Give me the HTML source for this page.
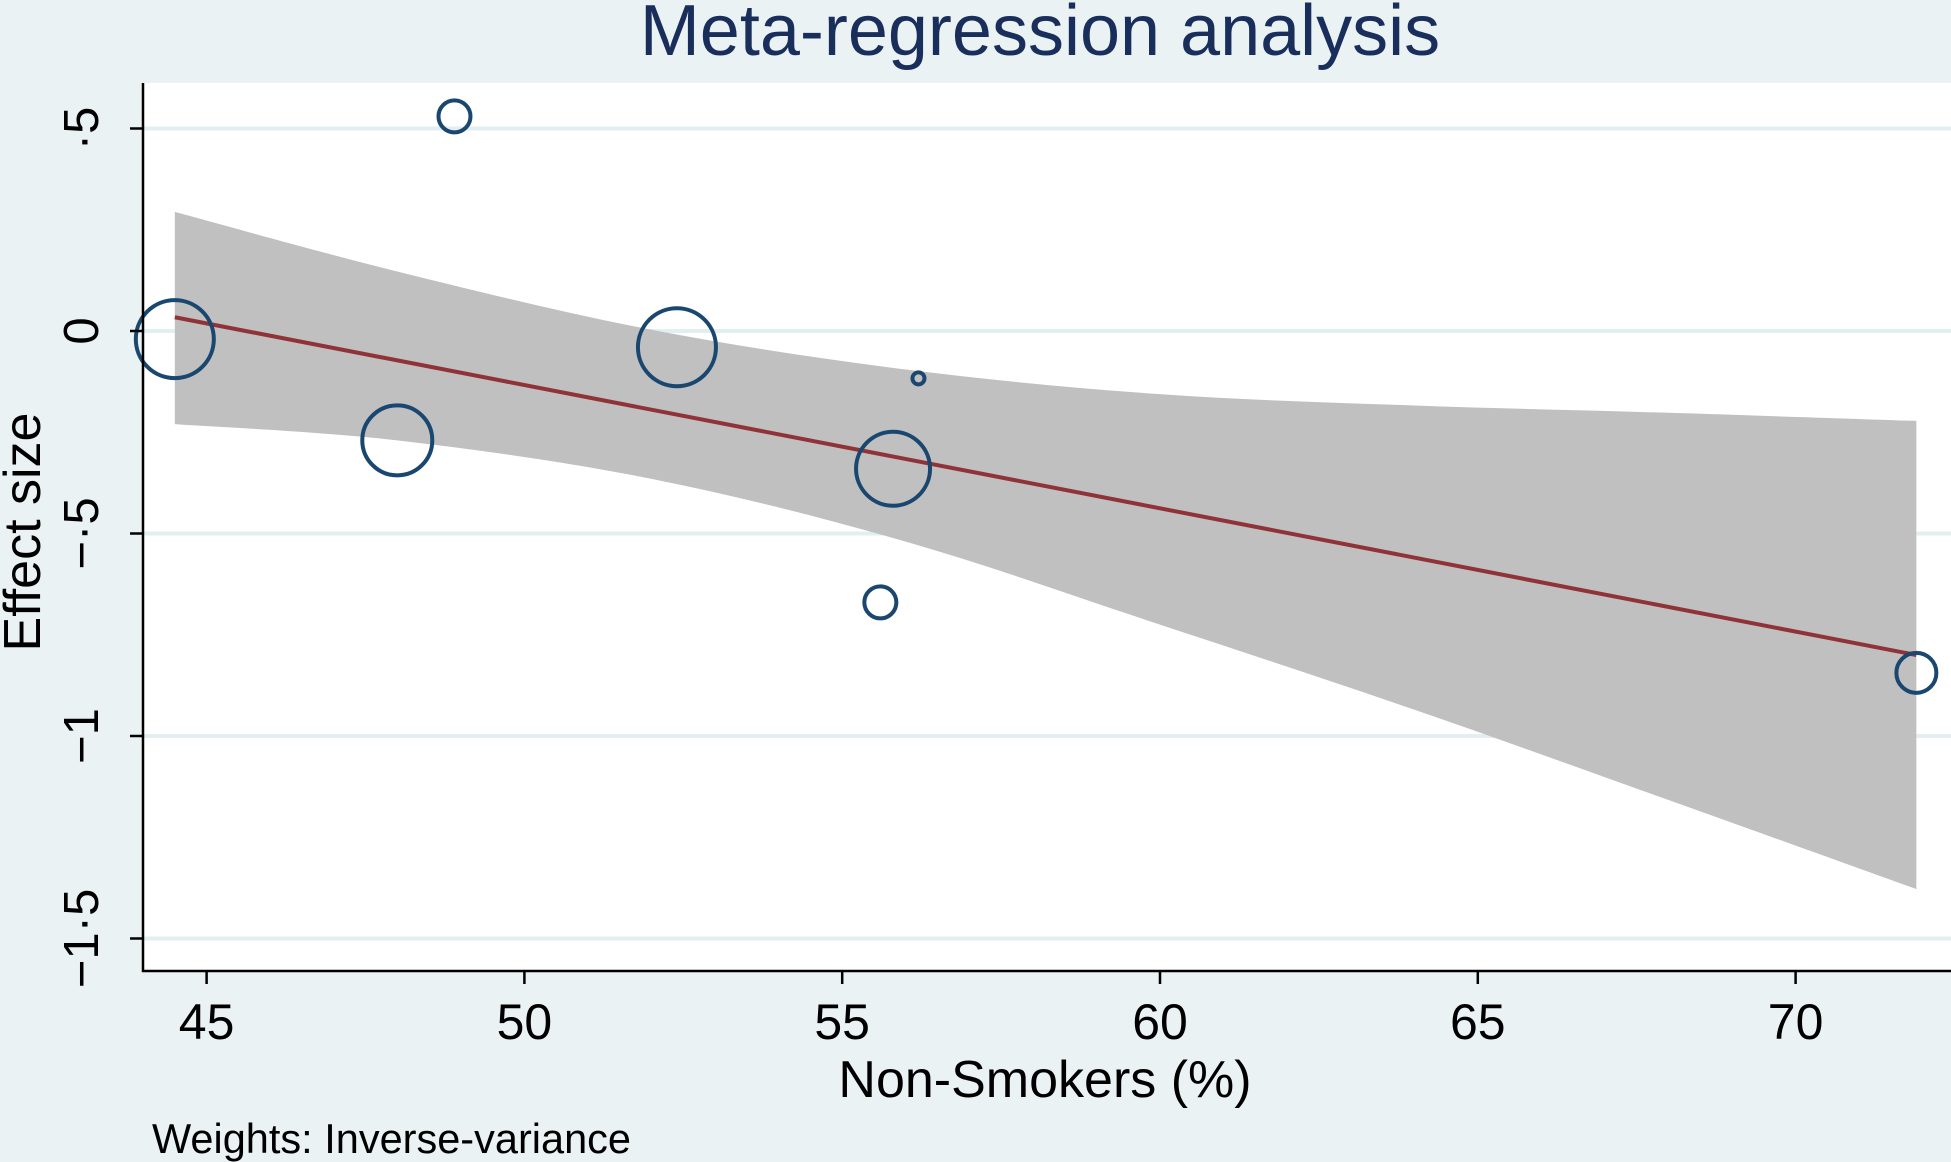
<!DOCTYPE html>
<html><head><meta charset="utf-8"><style>
html,body{margin:0;padding:0;background:#eaf2f3;}
svg{display:block;font-family:"Liberation Sans",Arial,sans-serif;}
</style></head><body>
<svg id="chart" width="1951" height="1162" viewBox="0 0 1951 1162" xmlns="http://www.w3.org/2000/svg">
<rect x="0" y="0" width="1951" height="1162" fill="#eaf2f3"/>
<rect x="143" y="83" width="1808" height="888" fill="#ffffff"/>
<g id="grid"></g>
<g id="band"></g>
<g id="fit"></g>
<g id="points"></g>
<g id="axes"></g>
<text x="1040" y="55" text-anchor="middle" font-size="72" fill="#1a2e5c">Meta-regression analysis</text>
<text x="1045" y="1097" text-anchor="middle" font-size="52" fill="#000">Non-Smokers (%)</text>
<text transform="translate(40,532) rotate(-90)" text-anchor="middle" font-size="52" fill="#000">Effect size</text>
<text x="152" y="1153" font-size="41.5" fill="#000">Weights: Inverse-variance</text>
</svg>
<script>
const xTicks = [45, 50, 55, 60, 65, 70];
const yTicks = [0.5, 0, -0.5, -1, -1.5];
const yTickLabels = ["·5", "0", "−·5", "−1", "−1·5"];
const studyX = [44.5, 48.9, 48.0, 52.4, 56.2, 55.8, 55.6, 71.9];
const studyY = [-0.02, 0.53, -0.27, -0.04, -0.117, -0.34, -0.67, -0.844];
const studyWeight = [39, 16, 35, 39, 6, 37, 16, 20];
const fitX = [44.5, 71.9];
const fitY = [0.034, -0.80];
const bandX = [44.5, 48, 52, 56, 60, 64, 68, 71.9];
const bandUpper = [0.294, 0.147, 0.003, -0.095, -0.156, -0.184, -0.202, -0.222];
const bandLower = [-0.23, -0.27, -0.365, -0.52, -0.725, -0.935, -1.158, -1.378];

const NS = "http://www.w3.org/2000/svg";
function sx(v){ return 206.6 + (v - 45) * 63.56; }
function sy(v){ return 331 - v * 405; }
function mk(tag, attrs, parent){
  const e = document.createElementNS(NS, tag);
  for (const k in attrs) e.setAttribute(k, attrs[k]);
  parent.appendChild(e);
  return e;
}
const grid = document.getElementById('grid');
const axes = document.getElementById('axes');
yTicks.forEach((t, i) => {
  const g = mk('line', {x1: 143, x2: 1951, y1: sy(t), y2: sy(t), stroke: '#e3eef0', 'stroke-width': 4}, grid);
  
  
  const tk = mk('line', {x1: 130, x2: 143, y1: sy(t), y2: sy(t), stroke: '#000', 'stroke-width': 2.5}, axes);
  
  
  const lb = mk('text', {transform: 'translate(98,' + sy(t) + ') rotate(-90)', 'text-anchor': 'middle', 'font-size': 49, fill: '#000'}, axes);
  lb.textContent = yTickLabels[i];
  
  
});
xTicks.forEach(t => {
  const tk = mk('line', {x1: sx(t), x2: sx(t), y1: 971, y2: 984, stroke: '#000', 'stroke-width': 2.5}, axes);
  
  
  const lb = mk('text', {x: sx(t), y: 1039, 'text-anchor': 'middle', 'font-size': 50, fill: '#000'}, axes);
  lb.textContent = t;
  
  
});
const yAx = mk('line', {x1: 143, x2: 143, y1: 83, y2: 972, stroke: '#000', 'stroke-width': 2.5}, axes);


const xAx = mk('line', {x1: 142, x2: 1951, y1: 971, y2: 971, stroke: '#000', 'stroke-width': 2.5}, axes);



function smooth(px){
  let d = '';
  for (let i = 0; i < px.length - 1; i++){
    const p0 = px[Math.max(i-1,0)], p1 = px[i], p2 = px[i+1], p3 = px[Math.min(i+2,px.length-1)];
    const c1 = [p1[0] + (p2[0]-p0[0])/6, p1[1] + (p2[1]-p0[1])/6];
    const c2 = [p2[0] - (p3[0]-p1[0])/6, p2[1] - (p3[1]-p1[1])/6];
    d += ' C' + c1[0] + ',' + c1[1] + ' ' + c2[0] + ',' + c2[1] + ' ' + p2[0] + ',' + p2[1];
  }
  return d;
}
const up = bandX.map((x,i) => [sx(x), sy(bandUpper[i])]);
const lo = bandX.map((x,i) => [sx(x), sy(bandLower[i])]).reverse();
const bd = 'M' + up[0][0] + ',' + up[0][1] + smooth(up) + ' L' + lo[0][0] + ',' + lo[0][1] + smooth(lo) + ' Z';
const band = mk('path', {d: bd, fill: '#c0c0c0'}, document.getElementById('band'));



const fl = mk('line', {x1: sx(fitX[0]), y1: sy(fitY[0]), x2: sx(fitX[1]), y2: sy(fitY[1]), stroke: '#903338', 'stroke-width': 4}, document.getElementById('fit'));



const pts = document.getElementById('points');
studyX.forEach((x, i) => {
  const c = mk('circle', {cx: sx(x), cy: sy(studyY[i]), r: studyWeight[i], fill: 'none', stroke: '#1a476f', 'stroke-width': 4}, pts);
  
  
});
</script>
</body></html>
